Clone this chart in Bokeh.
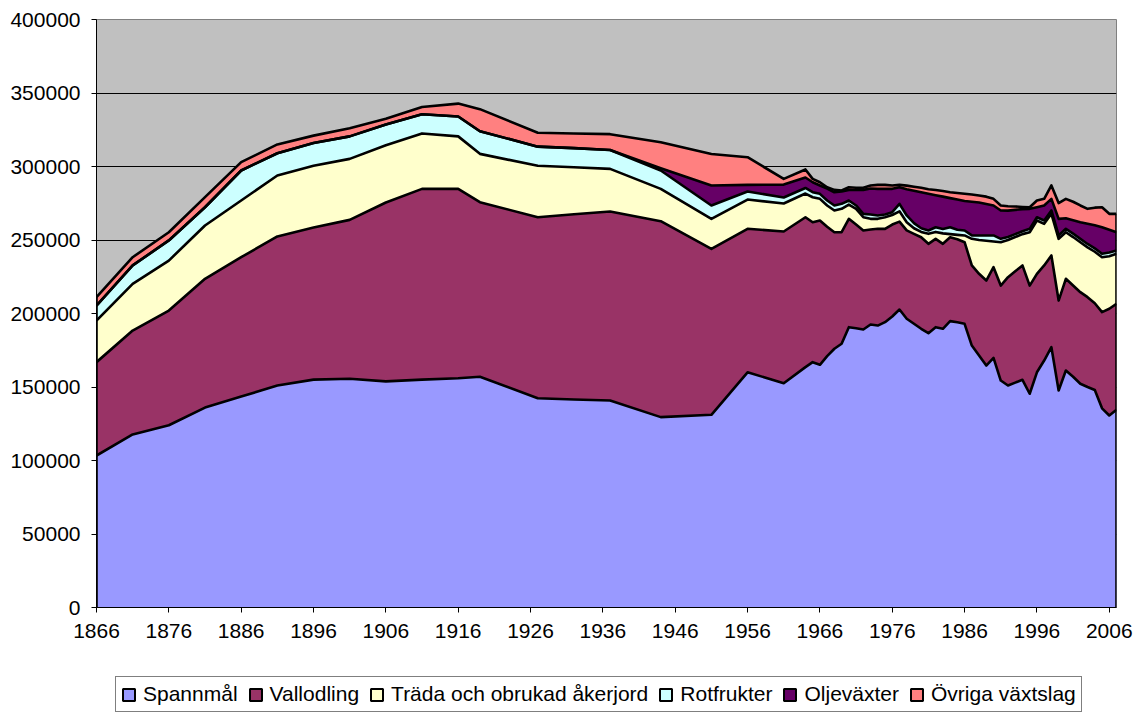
import numpy as np
from bokeh.plotting import figure
from bokeh.layouts import column
from bokeh.models import (FixedTicker, NumeralTickFormatter, Legend, LegendItem, Range1d)
from bokeh.embed import file_html
from bokeh.resources import INLINE

years = [1866, 1871, 1876, 1881, 1886, 1891, 1896, 1901, 1906, 1911, 1916, 1919, 1927, 1932,
         1937, 1944, 1951, 1956, 1961, 1964, 1965, 1966, 1967, 1968, 1969, 1970, 1971, 1972,
         1973, 1974, 1975, 1976, 1977, 1978, 1979, 1980, 1981, 1982, 1983, 1984, 1985, 1986,
         1987, 1988, 1989, 1990, 1991, 1992, 1993, 1994, 1995, 1996, 1997, 1998, 1999, 2000,
         2001, 2002, 2003, 2004, 2005, 2006, 2007]

spannmal = [103400, 117700, 124000, 136000, 143500, 151000, 155000, 155600, 153800, 155000,
            156000, 157000, 142300, 141500, 140800, 129500, 131100, 160000, 152600, 163500,
            166900, 165100, 171000, 176000, 179400, 190700, 190000, 189100, 192500, 191800,
            194100, 198000, 202700, 196400, 193000, 189600, 186600, 190700, 189600, 194800,
            194000, 193000, 178200, 171400, 164600, 169800, 154400, 151000, 153000, 154900,
            145400, 160000, 168000, 177100, 147600, 161200, 157000, 152200, 150000, 148000,
            135500, 130600, 134500]

vallodling = [63500, 70700, 78000, 87600, 94800, 101400, 103500, 108100, 121700, 129800,
              128800, 118700, 123200, 126000, 128600, 133300, 112900, 97600, 103200, 102000,
              95200, 98200, 88000, 79300, 75900, 73700, 70500, 67400, 64600, 65800,
              63500, 62500, 59800, 60100, 61200, 62300, 60800, 60100, 57800, 57100,
              56500, 55500, 54500, 55600, 57800, 61700, 64600, 73700, 75700, 77800,
              73600, 67000, 64700, 62400, 61200, 62400, 62000, 62300, 61100, 59000,
              65400, 72600, 72100]

trada = [28300, 31800, 34000, 36300, 38600, 41500, 42000, 41500, 39000, 37700,
         35700, 32900, 35000, 32000, 29000, 22000, 20400, 19900, 19000, 16100,
         17000, 14700, 14500, 14800, 15900, 9700, 10700, 9000, 7300, 6800,
         7900, 6500, 7000, 5600, 3800, 3600, 6800, 4700, 7100, 2100,
         3000, 4600, 18100, 23000, 27100, 17500, 29500, 25300, 23300, 21300,
         36300, 36300, 28300, 28300, 42000, 31700, 33000, 34000, 33900, 35000,
         37400, 35800, 34000]

rotfrukter = [10200, 12500, 13700, 12400, 20400, 15100, 15500, 15300, 14000, 13000,
              13500, 15400, 13000, 13000, 12800, 12500, 9100, 5500, 4100, 3800,
              3400, 3400, 3400, 3400, 3400, 2800, 2300, 2300, 2900, 2300,
              1800, 1900, 5100, 4600, 3500, 2500, 2300, 3200, 3000, 4700,
              3500, 3400, 2300, 3100, 3600, 4100, 2300, 2000, 2000, 2000,
              2300, 2200, 2300, 2300, 2300, 2300, 2300, 2300, 2300, 2300,
              2300, 2500, 2300]

oljevaxter = [0, 0, 0, 0, 0, 0, 0, 0, 0, 0,
              0, 0, 0, 0, 0, 1500, 13600, 4500, 8800, 7100,
              6800, 5700, 8100, 9000, 8400, 7200, 10500, 16300, 17700, 18100,
              17500, 15900, 11300, 17800, 22000, 24500, 25000, 21800, 22000, 19800,
              20500, 20000, 22900, 22400, 21400, 20400, 19300, 18000, 16500, 15000,
              13600, 6800, 10200, 7900, 11300, 7200, 9200, 11300, 13700, 15700,
              18100, 15500, 12400]

ovriga = [5700, 5600, 5600, 6900, 5700, 6000, 5000, 5500, 4000, 5000,
          8800, 15000, 9500, 10000, 10800, 17700, 21400, 18800, 3900, 5500,
          2300, 2200, 900, 1600, 700, 1800, 1500, 1400, 2100, 2700,
          2700, 2300, 1600, 2500, 2700, 3000, 3000, 3500, 3800, 4000,
          4500, 5000, 5000, 4800, 5000, 4500, 3400, 3000, 2300, 1500,
          1100, 4600, 4500, 9100, 10700, 13200, 12500, 11400, 10200, 12000,
          13600, 10800, 12500]

names = ["Spannmål", "Vallodling", "Träda och obrukad åkerjord", "Rotfrukter",
         "Oljeväxter", "Övriga växtslag"]
colors = ["#9999FF", "#993366", "#FFFFCC", "#CCFFFF", "#660066", "#FF8080"]
x_ticks = list(range(1866, 2007, 10))
y_ticks = list(range(0, 400001, 50000))

series = [spannmal, vallodling, trada, rotfrukter, oljevaxter, ovriga]

FONT = "Liberation Sans"

p = figure(width=1139, height=672, x_range=Range1d(1866, 2007), y_range=Range1d(0, 400000),
           output_backend="svg", toolbar_location=None,
           min_border_left=96, min_border_right=23, min_border_top=19, min_border_bottom=65)

p.background_fill_color = "#C0C0C0"
p.border_fill_color = "white"
p.outline_line_color = "#808080"
p.outline_line_width = 1

p.xgrid.visible = False
p.ygrid.ticker = FixedTicker(ticks=y_ticks[1:-1])
p.ygrid.grid_line_color = "black"
p.ygrid.grid_line_width = 1

p.xaxis.ticker = FixedTicker(ticks=x_ticks)
p.yaxis.ticker = FixedTicker(ticks=y_ticks)
p.xaxis.formatter = NumeralTickFormatter(format="0")
p.yaxis.formatter = NumeralTickFormatter(format="0")
for ax in (p.xaxis, p.yaxis):
    ax.axis_line_color = "black"
    ax.axis_line_width = 1
    ax.major_tick_line_color = "black"
    ax.major_tick_in = 0
    ax.major_tick_out = 5
    ax.minor_tick_line_color = None
    ax.major_label_text_font = FONT
    ax.major_label_text_font_size = "21px"
    ax.major_label_text_color = "black"
    ax.major_label_standoff = 11

x = np.array(years, dtype=float)
bottom = np.zeros(len(years))
tops = []
for vals, c in zip(series, colors):
    top = bottom + np.array(vals, dtype=float)
    p.varea(x=x, y1=bottom, y2=top, fill_color=c, fill_alpha=1)
    tops.append(top)
    bottom = top

for top in tops:
    p.line(x, top, line_color="black", line_width=2.6, line_join="round")

total = tops[-1]
p.segment(x0=[x[0], x[-1]], y0=[0, 0], x1=[x[0], x[-1]], y1=[total[0], total[-1]],
          line_color="black", line_width=2.6)

# legend strip below the chart (its frame is aligned with the chart's frame)
p2 = figure(width=1139, height=41, x_range=Range1d(0, 1), y_range=Range1d(0, 1),
            output_backend="svg", toolbar_location=None,
            x_axis_type=None, y_axis_type=None,
            min_border_left=96, min_border_right=23, min_border_top=0, min_border_bottom=0)
p2.grid.visible = False
p2.outline_line_color = None
p2.background_fill_color = "white"
p2.border_fill_color = "white"

# legend proxies: one swatch each, placed outside the strip's visible range
items = []
for name, c in zip(names, colors):
    r = p2.quad(left=[5], right=[6], top=[5], bottom=[6], fill_color=c, line_color="black",
                line_width=2)
    items.append(LegendItem(label=name, renderers=[r]))

legend = Legend(items=items, orientation="horizontal", location=(19, 1),
                border_line_color="black", border_line_width=1,
                background_fill_color="white", background_fill_alpha=1,
                padding=5, spacing=10, margin=0, label_standoff=7,
                glyph_width=15, glyph_height=15, label_height=22,
                label_text_font=FONT, label_text_font_size="21px",
                label_text_color="black")
p2.add_layout(legend)

layout = column(p, p2, spacing=0)
open("out.html", "w").write(file_html(layout, INLINE))
